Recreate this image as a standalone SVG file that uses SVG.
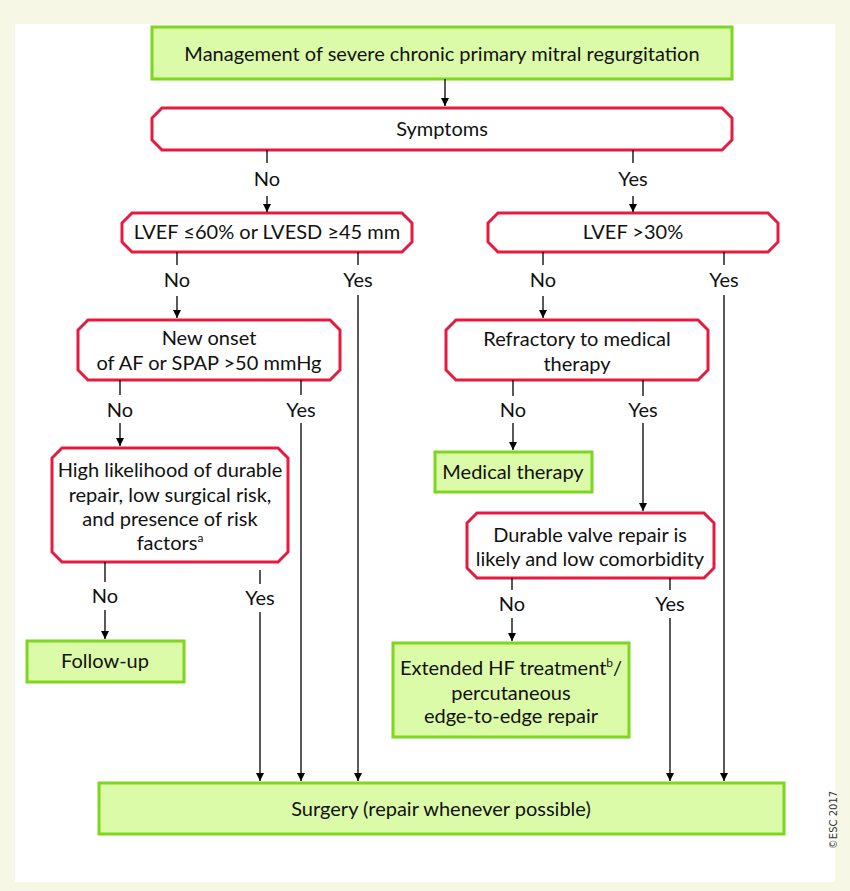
<svg xmlns="http://www.w3.org/2000/svg" width="850" height="891" viewBox="0 0 850 891">
<defs>
<marker id="ah" viewBox="0 0 8 10" refX="8" refY="5" markerWidth="8" markerHeight="10" markerUnits="userSpaceOnUse" orient="auto">
<path d="M0,1 L8,5 L0,9 Z" fill="#000"/>
</marker>
<style>
.bg{fill:#f6f7e4}
.panel{fill:#ffffff}
.dec{fill:#ffffff;stroke:#e51a3f;stroke-width:3}
.act{fill:#dcfba8;stroke:#7dd61f;stroke-width:3}
.t{font-family:Lato,"Open Sans",sans-serif;font-size:20px;fill:#111;text-anchor:middle}
.ln{stroke:#000;stroke-width:1.3;fill:none}
.ar{stroke:#000;stroke-width:1.3;fill:none;marker-end:url(#ah)}
.cp{font-family:"DejaVu Sans",sans-serif;font-size:10px;fill:#333;text-anchor:middle}
</style>
</defs>
<rect class="bg" x="0" y="0" width="850" height="891"/>
<rect class="panel" x="15" y="24" width="820" height="858"/>

<g id="title">
<rect class="act" x="152" y="27" width="580" height="52"/>
<text class="t" x="442" y="61">Management of severe chronic primary mitral regurgitation</text>
</g>
<g id="symptoms">
<polygon class="dec" points="162,108 722,108 732,118 732,140 722,150 162,150 152,140 152,118"/>
<text class="t" x="442" y="136">Symptoms</text>
</g>
<g id="lvef60">
<polygon class="dec" points="132,213 402,213 412,223 412,242 402,252 132,252 122,242 122,223"/>
<text class="t" x="267" y="239">LVEF ≤60% or LVESD ≥45 mm</text>
</g>
<g id="lvef30">
<polygon class="dec" points="498,213 768,213 778,223 778,242 768,252 498,252 488,242 488,223"/>
<text class="t" x="633" y="239">LVEF &gt;30%</text>
</g>
<g id="newonset">
<polygon class="dec" points="88,320 330,320 340,330 340,370 330,380 88,380 78,370 78,330"/>
<text class="t" x="209" y="345">New onset</text>
<text class="t" x="209" y="370">of AF or SPAP &gt;50 mmHg</text>
</g>
<g id="refractory">
<polygon class="dec" points="456,320 698,320 708,330 708,370 698,380 456,380 446,370 446,330"/>
<text class="t" x="577" y="346">Refractory to medical</text>
<text class="t" x="577" y="371">therapy</text>
</g>
<g id="high">
<polygon class="dec" points="62,448 278,448 288,458 288,552 278,562 62,562 52,552 52,458"/>
<text class="t" x="170" y="477">High likelihood of durable</text>
<text class="t" x="170" y="502">repair, low surgical risk,</text>
<text class="t" x="170" y="526">and presence of risk</text>
<text class="t" x="170" y="550">factors<tspan font-size="12" dy="-8">a</tspan></text>
</g>
<g id="medical">
<rect class="act" x="435" y="452" width="157" height="40"/>
<text class="t" x="513" y="479">Medical therapy</text>
</g>
<g id="durable">
<polygon class="dec" points="477,513 704,513 714,523 714,568 704,578 477,578 467,568 467,523"/>
<text class="t" x="590" y="542">Durable valve repair is</text>
<text class="t" x="590" y="566">likely and low comorbidity</text>
</g>
<g id="followup">
<rect class="act" x="27" y="641" width="157" height="41"/>
<text class="t" x="105" y="668">Follow-up</text>
</g>
<g id="extended">
<rect class="act" x="393" y="643" width="236" height="94"/>
<text class="t" x="511" y="675">Extended HF treatment<tspan font-size="12" dy="-8">b</tspan><tspan dy="8">/</tspan></text>
<text class="t" x="511" y="700">percutaneous</text>
<text class="t" x="511" y="723">edge-to-edge repair</text>
</g>
<g id="surgery">
<rect class="act" x="99" y="783" width="685" height="51"/>
<text class="t" x="441" y="816">Surgery (repair whenever possible)</text>
</g>

<g id="connectors">
<line class="ar" x1="445" y1="79" x2="445" y2="106"/>
<line class="ln" x1="267" y1="150" x2="267" y2="163"/>
<line class="ar" x1="267" y1="196" x2="267" y2="212"/>
<line class="ln" x1="633" y1="150" x2="633" y2="163"/>
<line class="ar" x1="633" y1="196" x2="633" y2="212"/>

<line class="ln" x1="177" y1="252" x2="177" y2="265"/>
<line class="ar" x1="177" y1="296" x2="177" y2="318"/>
<line class="ln" x1="358" y1="252" x2="358" y2="265"/>
<line class="ar" x1="358" y1="295" x2="358" y2="781"/>
<line class="ln" x1="543" y1="252" x2="543" y2="265"/>
<line class="ar" x1="543" y1="296" x2="543" y2="318"/>
<line class="ln" x1="724" y1="252" x2="724" y2="265"/>
<line class="ar" x1="724" y1="295" x2="724" y2="781"/>

<line class="ln" x1="120" y1="380" x2="120" y2="395"/>
<line class="ar" x1="120" y1="423" x2="120" y2="446"/>
<line class="ln" x1="301" y1="380" x2="301" y2="395"/>
<line class="ar" x1="301" y1="423" x2="301" y2="781"/>
<line class="ln" x1="513" y1="380" x2="513" y2="396"/>
<line class="ar" x1="513" y1="423" x2="513" y2="450"/>
<line class="ln" x1="643" y1="380" x2="643" y2="396"/>
<line class="ar" x1="643" y1="423" x2="643" y2="511"/>

<line class="ln" x1="105" y1="562" x2="105" y2="582"/>
<line class="ar" x1="105" y1="610" x2="105" y2="639"/>
<line class="ln" x1="260" y1="570" x2="260" y2="584"/>
<line class="ar" x1="260" y1="612" x2="260" y2="781"/>
<line class="ln" x1="512" y1="578" x2="512" y2="590"/>
<line class="ar" x1="512" y1="618" x2="512" y2="641"/>
<line class="ln" x1="670" y1="578" x2="670" y2="590"/>
<line class="ar" x1="670" y1="618" x2="670" y2="781"/>
</g>

<g id="labels">
<text class="t" x="267" y="186">No</text>
<text class="t" x="633" y="186">Yes</text>
<text class="t" x="177" y="287">No</text>
<text class="t" x="358" y="287">Yes</text>
<text class="t" x="543" y="287">No</text>
<text class="t" x="724" y="287">Yes</text>
<text class="t" x="120" y="417">No</text>
<text class="t" x="301" y="417">Yes</text>
<text class="t" x="513" y="417">No</text>
<text class="t" x="643" y="417">Yes</text>
<text class="t" x="105" y="603">No</text>
<text class="t" x="260" y="605">Yes</text>
<text class="t" x="512" y="611">No</text>
<text class="t" x="670" y="611">Yes</text>
</g>

<text class="cp" transform="translate(837,820) rotate(-90)">©ESC 2017</text>
</svg>
